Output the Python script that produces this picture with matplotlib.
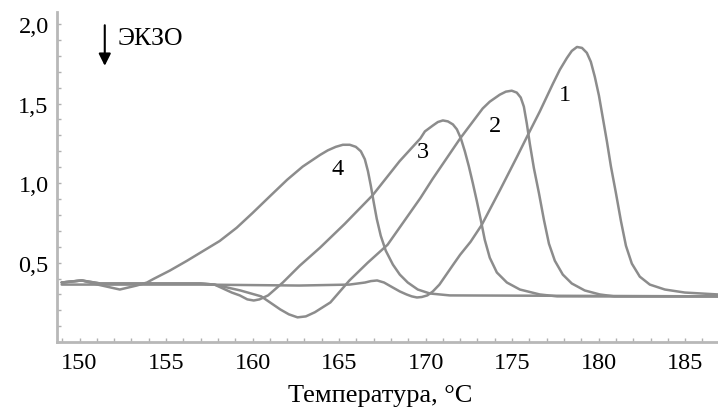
import matplotlib
matplotlib.use('Agg')
import matplotlib.pyplot as plt
from matplotlib.ticker import MultipleLocator

plt.rcParams['font.family'] = 'serif'
plt.rcParams['font.serif'] = ['Liberation Serif', 'DejaVu Serif']

# Кривые ДСК: температура, °C и сигнал
t1 = [148.97, 151.2, 157.0, 162.7, 165.6, 166.5, 166.84, 167.2, 167.6, 168.1, 168.51,
      168.9, 169.2, 169.5, 169.78, 170.1, 170.42, 170.8, 171.6, 172.0, 172.6, 173.25,
      174.3, 175.3, 175.9, 176.6, 177.36, 177.76, 178.17, 178.45, 178.75, 179.04,
      179.32, 179.55, 179.78, 180.02, 180.25, 180.48, 180.71, 181.0, 181.29, 181.58,
      181.92, 182.38, 182.96, 183.83, 184.98, 186.9]
y1 = [0.362, 0.362, 0.362, 0.356, 0.362, 0.375, 0.384, 0.388, 0.375, 0.344, 0.319,
      0.300, 0.288, 0.281, 0.284, 0.294, 0.319, 0.362, 0.488, 0.550, 0.631, 0.738,
      0.956, 1.169, 1.300, 1.450, 1.625, 1.713, 1.787, 1.831, 1.856, 1.850,
      1.819, 1.763, 1.669, 1.550, 1.406, 1.262, 1.106, 0.938, 0.762, 0.606,
      0.494, 0.412, 0.362, 0.331, 0.312, 0.300]

t2 = [148.97, 150.13, 151.2, 154.1, 157.0, 157.8, 159.3, 160.5, 161.6, 162.1, 162.6,
      163.08, 163.6, 164.5, 165.6, 166.66, 167.8, 169.7, 170.4, 172.0, 173.3, 173.71,
      174.29, 174.64, 174.98, 175.27, 175.5, 175.68, 175.85, 176.03, 176.26, 176.55,
      176.84, 177.13, 177.47, 177.93, 178.45, 179.2, 180.07, 180.9, 186.9]
y2 = [0.375, 0.388, 0.369, 0.369, 0.369, 0.362, 0.325, 0.288, 0.206, 0.175, 0.156,
      0.162, 0.188, 0.250, 0.388, 0.500, 0.612, 0.906, 1.025, 1.281, 1.469, 1.512,
      1.556, 1.575, 1.581, 1.569, 1.538, 1.481, 1.375, 1.244, 1.094, 0.938,
      0.769, 0.619, 0.512, 0.425, 0.369, 0.325, 0.300, 0.288, 0.288]

t3 = [148.97, 150.13, 151.2, 154.1, 157.0, 157.8, 158.8, 159.26, 159.7, 160.07,
      160.4, 160.9, 161.75, 162.73, 163.9, 165.33, 166.95, 168.5, 169.7, 169.96,
      170.42, 170.71, 171.0, 171.29, 171.58, 171.81, 172.04, 172.27, 172.5, 172.73,
      172.96, 173.19, 173.42, 173.71, 174.12, 174.7, 175.45, 176.6, 177.6, 186.9]
y3 = [0.375, 0.388, 0.369, 0.369, 0.369, 0.362, 0.312, 0.294, 0.269, 0.262,
      0.269, 0.294, 0.375, 0.481, 0.594, 0.744, 0.925, 1.138, 1.281, 1.325,
      1.362, 1.384, 1.394, 1.388, 1.369, 1.338, 1.281, 1.200, 1.106, 1.000,
      0.888, 0.769, 0.644, 0.531, 0.438, 0.375, 0.331, 0.300, 0.288, 0.288]

t4 = [148.97, 150.13, 151.05, 152.33, 153.3, 153.9, 154.25, 155.22, 156.2, 158.1,
      159.08, 160.0, 161.0, 162.0, 162.9, 163.9, 164.35, 164.81, 165.22, 165.62,
      165.97, 166.26, 166.49, 166.67, 166.84, 167.01, 167.18, 167.41, 167.7, 168.11,
      168.51, 168.97, 169.55, 170.25, 171.4, 186.9]
y4 = [0.375, 0.388, 0.362, 0.331, 0.356, 0.375, 0.396, 0.450, 0.511, 0.636,
      0.719, 0.812, 0.917, 1.021, 1.104, 1.177, 1.206, 1.228, 1.241, 1.241,
      1.228, 1.200, 1.150, 1.075, 0.981, 0.875, 0.775, 0.669, 0.575, 0.488,
      0.425, 0.375, 0.331, 0.306, 0.294, 0.288]

kriv_nomer = ['1', '2', '3', '4']
kriv_t = [t1, t2, t3, t4]
kriv_y = [y1, y2, y3, y4]
metki_t = [178.05, 174.0, 169.84, 164.9]
metki_y = [1.56, 1.36, 1.20, 1.09]

fig = plt.figure(figsize=(7.18, 4.10), dpi=100)
ax = fig.add_axes([0.0794, 0.163, 0.9206, 0.805])

seryj = '#8c8c8c'
for t, y in zip(kriv_t, kriv_y):
    ax.plot(t, y, color=seryj, lw=1.8, solid_joinstyle='round', solid_capstyle='round')

for n, tx, ty in zip(kriv_nomer, metki_t, metki_y):
    ax.text(tx, ty, n, fontsize=17.5, ha='center', va='center')

# стрелка ЭКЗО
ax.annotate('', xy=(151.46, 1.72), xytext=(151.46, 2.01),
            arrowprops=dict(arrowstyle='-|>', color='black', lw=1.5,
                            mutation_scale=18))
ax.text(152.2, 1.915, 'ЭКЗО', fontsize=18.5, ha='left', va='center')

ax.set_xlim(148.7, 186.9)
ax.set_ylim(0, 2.075)
ax.set_xticks([150, 155, 160, 165, 170, 175, 180, 185])
ax.set_yticks([0.5, 1.0, 1.5, 2.0])
ax.set_yticklabels(['0,5', '1,0', '1,5', '2,0'])
ax.xaxis.set_minor_locator(MultipleLocator(1))
ax.yaxis.set_minor_locator(MultipleLocator(0.1))
ax.tick_params(which='both', direction='in', color='#b0b0b0', width=1,
               length=3, labelsize=17.5)
ax.tick_params(axis='x', pad=7)
ax.tick_params(axis='y', pad=6)

for s in ['top', 'right']:
    ax.spines[s].set_visible(False)
for s in ['left', 'bottom']:
    ax.spines[s].set_color('#b8b8b8')
    ax.spines[s].set_linewidth(2)

ax.set_xlabel('Температура, °C', fontsize=19, va='center')
ax.xaxis.set_label_coords(0.489, -0.16)

plt.savefig('out.png', dpi=100)
